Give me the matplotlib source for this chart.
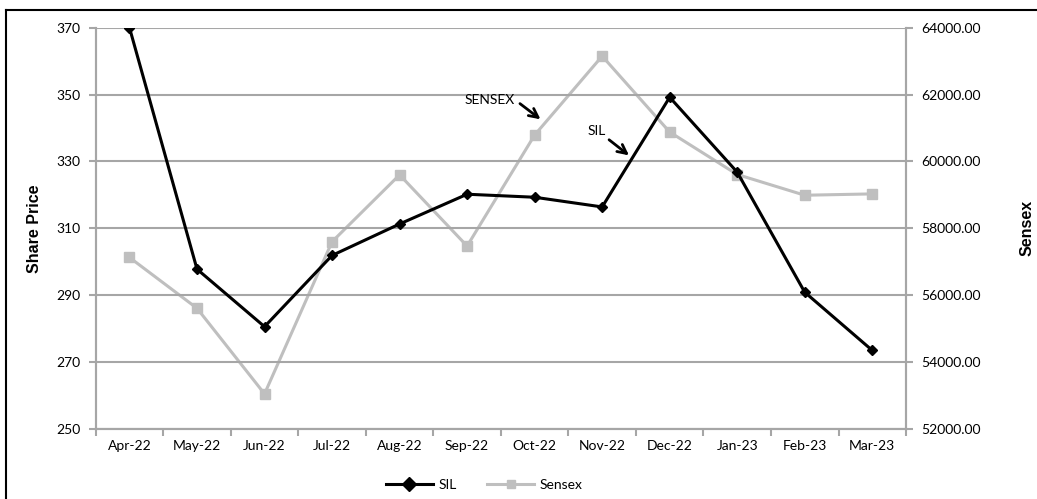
import matplotlib
matplotlib.use("Agg")
import matplotlib.pyplot as plt
from matplotlib.lines import Line2D
import numpy as np

months = ["Apr-22", "May-22", "Jun-22", "Jul-22", "Aug-22", "Sep-22",
          "Oct-22", "Nov-22", "Dec-22", "Jan-23", "Feb-23", "Mar-23"]
sil = [370.0, 297.8, 280.6, 301.9, 311.3, 320.2, 319.3, 316.4, 349.2, 326.8, 290.9, 273.5]
sensex = [57130, 55610, 53050, 57600, 59600, 57470, 60790, 63150, 60880, 59610, 58990, 59030]

TICK_FONT = "Lato"
GRID = "#a6a6a6"
FS = 10

fig = plt.figure(figsize=(10.37, 4.99), dpi=100)
ax = fig.add_axes([0.0923, 0.1403, 0.7814, 0.8042])
ax2 = ax.twinx()

x = np.arange(len(months))

ax.set_zorder(ax2.get_zorder() + 1)
ax.patch.set_visible(False)

ax2.plot(x, sensex, color="#bfbfbf", lw=2.2, marker="s", ms=7, label="Sensex")
ax.plot(x, sil, color="black", lw=2.2, marker="D", ms=5, label="SIL")

ax.set_xlim(-0.5, len(months) - 0.5)
ax.set_ylim(250, 370)
ax.set_yticks(np.arange(250, 371, 20))
ax2.set_ylim(52000, 64000)
ax2.set_yticks(np.arange(52000, 64001, 2000))
ax2.set_yticklabels([f"{v:.2f}" for v in np.arange(52000, 64001, 2000)])

ax.set_xticks(x)
ax.set_xticklabels(months)
ax.set_xticks(np.arange(-0.5, len(months), 1), minor=True)
ax.tick_params(axis="x", which="major", length=0, pad=8)
ax.tick_params(axis="x", which="minor", length=5, width=1.5, color=GRID)
ax.tick_params(axis="y", length=5, width=1.5, color=GRID, pad=6)
ax2.tick_params(axis="y", length=5, width=1.5, color=GRID, pad=6)
for a in (ax, ax2):
    for lab in a.get_xticklabels() + a.get_yticklabels():
        lab.set_fontfamily(TICK_FONT)
        lab.set_fontsize(FS)

ax.grid(axis="y", color=GRID, lw=1.5)
ax.set_axisbelow(True)
for a in (ax, ax2):
    a.spines["top"].set_visible(False)
    for s in ("left", "right", "bottom"):
        a.spines[s].set_color(GRID)
        a.spines[s].set_linewidth(1.5)

ax.set_ylabel("Share Price", fontsize=11.5, fontweight="bold",
              fontfamily="Liberation Sans", labelpad=10)
ax2.set_ylabel("Sensex", fontsize=11.5, fontweight="bold",
               fontfamily="Liberation Sans", labelpad=28)

# callouts
ax.text(5.71, 348.4, "SENSEX", ha="right", va="center", fontsize=FS, fontfamily=TICK_FONT)
ax.annotate("", xy=(6.12, 342.1), xytext=(5.75, 347.8),
            arrowprops=dict(arrowstyle="->", lw=2, color="black", mutation_scale=16))
ax.text(6.92, 339.1, "SIL", ha="center", va="center", fontsize=FS, fontfamily=TICK_FONT)
ax.annotate("", xy=(7.43, 331.3), xytext=(7.07, 337.0),
            arrowprops=dict(arrowstyle="->", lw=2, color="black", mutation_scale=16))

handles = [Line2D([], [], color="black", lw=2.2, marker="D", ms=7, label="SIL"),
           Line2D([], [], color="#bfbfbf", lw=2.2, marker="s", ms=6, label="Sensex")]
leg = fig.legend(handles=handles, loc="center", bbox_to_anchor=(0.467, 0.028), ncol=2,
                 frameon=False, handlelength=3.4, handletextpad=0.4, columnspacing=2.2,
                 prop={"family": TICK_FONT, "size": FS})

# outer frame (left and top edges)
fig.add_artist(Line2D([0.006, 0.006], [0.0, 0.98], color="black", lw=1.5, transform=fig.transFigure))
fig.add_artist(Line2D([0.006, 1.0], [0.98, 0.98], color="black", lw=1.5, transform=fig.transFigure))

fig.savefig("out.png", dpi=100)
